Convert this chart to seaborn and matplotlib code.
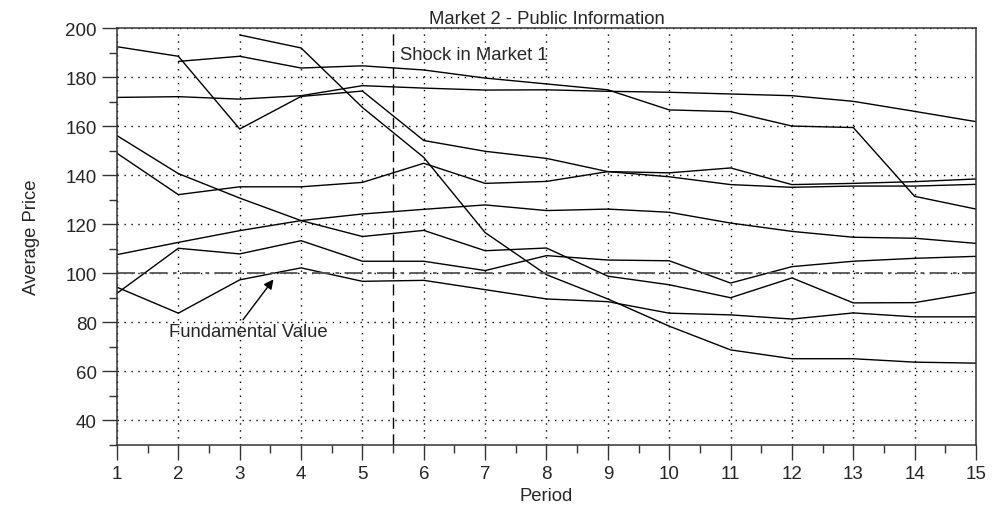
import numpy as np
import pandas as pd
import matplotlib
matplotlib.use('Agg')
import matplotlib.pyplot as plt
import seaborn as sns
from matplotlib.ticker import MultipleLocator

# Datos (NaN = mercado sin datos en ese periodo)
periods = list(range(1, 16))
nan = np.nan
market_a = [192.5, 188.6, 158.9, 172.2, 174.4, 154.2, 149.8, 146.9, 141.5, 141.0, 143.0, 136.2, 136.7, 137.4, 138.5]
market_b = [nan, 186.5, 188.6, 183.8, 184.7, 183.0, 179.7, 177.3, 174.9, 166.7, 166.0, 160.1, 159.5, 131.4, 126.2]
market_c = [171.8, 172.1, 171.1, 172.5, 176.6, 175.6, 174.8, 174.9, 174.3, 173.9, 173.2, 172.5, 170.2, 166.1, 161.9]
market_d = [nan, nan, 197.3, 192.0, 167.7, 147.3, 116.6, 99.4, 89.5, 78.4, 68.7, 65.1, 65.1, 63.7, 63.3]
market_e = [149.0, 132.1, 135.3, 135.3, 137.1, 144.9, 136.7, 137.5, 141.5, 139.4, 136.2, 135.1, 135.6, 135.6, 136.3]
market_f = [156.2, 140.7, 130.7, 121.5, 115.0, 117.5, 109.2, 110.3, 98.8, 95.3, 90.0, 98.1, 87.9, 88.0, 92.2]
market_g = [107.6, 112.6, 117.4, 121.5, 124.2, 126.1, 127.9, 125.6, 126.2, 124.9, 120.5, 117.1, 114.7, 114.3, 112.2]
market_h = [91.8, 110.2, 107.9, 113.3, 104.9, 104.9, 101.1, 107.2, 105.4, 105.1, 96.0, 102.7, 104.9, 106.1, 106.9]
market_i = [94.3, 83.7, 97.3, 102.2, 96.7, 97.1, 93.3, 89.5, 88.4, 83.7, 83.0, 81.3, 83.8, 82.2, 82.2]

fundamental_value = 100
shock_period = 5.5

series = {'A': market_a, 'B': market_b, 'C': market_c, 'D': market_d, 'E': market_e,
          'F': market_f, 'G': market_g, 'H': market_h, 'I': market_i}
rows = []
for name, vals in series.items():
    for p, v in zip(periods, vals):
        rows.append({'market': name, 'period': p, 'price': v})
df = pd.DataFrame(rows).dropna()

sns.set_style('ticks')
plt.rcParams['font.family'] = ['Liberation Sans', 'DejaVu Sans']

fig = plt.figure(figsize=(9.93, 5.06), dpi=100)
ax = fig.add_axes([0.1178, 0.1192, 0.8651, 0.8228])

# Rejilla punteada
ax.grid(True, which='major', color='black', linestyle=(0, (1, 4)), linewidth=1.0)
ax.set_axisbelow(True)

sns.lineplot(data=df, x='period', y='price', units='market', estimator=None,
             color='black', linewidth=1.0, ax=ax, legend=False)

ax.axhline(fundamental_value, color='#555555', linestyle=(0, (10, 3, 2, 3)), linewidth=1.3)
ax.axvline(shock_period, color='black', linestyle=(0, (8, 4)), linewidth=1.0)

ax.set_xlim(1, 15)
ax.set_ylim(30, 200)
ax.xaxis.set_major_locator(MultipleLocator(1))
ax.xaxis.set_minor_locator(MultipleLocator(0.5))
ax.set_yticks(range(40, 201, 20))
ax.yaxis.set_minor_locator(MultipleLocator(10))
ax.tick_params(which='major', length=11, width=1, labelsize=13.5, color='#333333')
ax.tick_params(which='minor', length=6, width=1, color='#333333')
for s in ax.spines.values():
    s.set_linewidth(1.1)
    s.set_color('#333333')

ax.set_title('Market 2 - Public Information', fontsize=13.3, pad=4)
ax.set_xlabel('Period', fontsize=13.3, labelpad=4)
ax.set_ylabel('Average Price', fontsize=13.3, labelpad=18)

ax.text(5.62, 189.5, 'Shock in Market 1', fontsize=13.3, va='center', ha='left')
ax.annotate('Fundamental Value', xy=(3.55, 97.5), xytext=(1.85, 76.2),
            fontsize=13.3, va='center', ha='left',
            arrowprops=dict(arrowstyle='-|>', color='black', lw=1.0,
                            shrinkA=0, shrinkB=0, mutation_scale=14,
                            relpos=(0.45, 1.0)))

fig.savefig('out.png', dpi=100)
